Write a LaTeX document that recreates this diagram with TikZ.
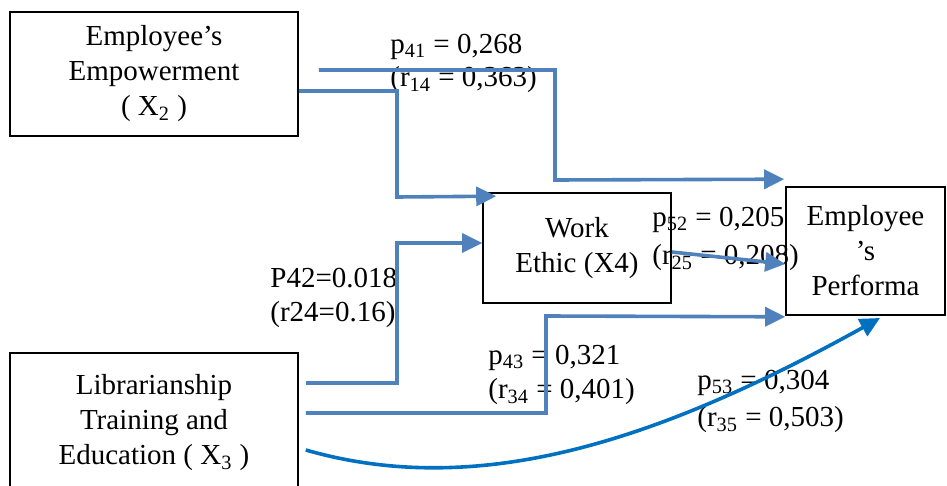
\documentclass[tikz,border=0pt]{standalone}
\usepackage{fontspec}
\setmainfont{Liberation Serif}
\usepackage{tikz}
\usetikzlibrary{arrows.meta,calc}
\definecolor{pathblue}{RGB}{79,129,189}
\definecolor{curveblue}{RGB}{0,112,192}

\begin{document}
\begin{tikzpicture}[x=0.5pt, y=-0.5pt, every node/.style={font=\fontsize{14.5}{17.5}\selectfont}]
\tikzset{box/.style={draw, line width=0.8pt, align=center, fill=white, inner sep=0pt}}
\tikzset{coef/.style={anchor=west, inner sep=0pt, align=left}}
\tikzset{arrow/.style={-{Triangle[length=10pt,width=9.5pt]}, line width=1.8pt, pathblue}}
\clip (0,0) rectangle (947,486);
% variables
\node[box, minimum width=144pt, minimum height=62pt] (empower) at (154,74) {Employee’s\\Empowerment\\( X\textsubscript{2} )};
\node[box, minimum width=94pt, minimum height=55pt] (ethic) at (577,248) {Work\\Ethic (X4)};
\node[box, minimum width=79.5pt, minimum height=64pt] (perform) at (865.5,251) {Employee\\’s\\Performa};
\node[box, minimum width=144pt, minimum height=70pt] (train) at (154,423) {Librarianship\\Training and\\Education ( X\textsubscript{3} )};
% coefficients
\node[coef] (p41) at (390,47) {p\textsubscript{41} = 0,268};
\node[coef] (r14) at (390,80) {(r\textsubscript{14} = 0,363)};
\node[coef] (p52) at (652,220) {p\textsubscript{52} = 0,205};
\node[coef] (r25) at (652,258) {(r\textsubscript{25} = 0,208)};
\node[coef] (p42) at (270,278) {P42=0.018};
\node[coef] (r24) at (270,315) {(r24=0.16)};
\node[coef] (p43) at (488,358) {p\textsubscript{43} = 0,321};
\node[coef] (r34) at (488,392) {(r\textsubscript{34} = 0,401)};
\node[coef] (p53) at (697,383) {p\textsubscript{53} = 0,304};
\node[coef] (r35) at (697,420) {(r\textsubscript{35} = 0,503)};
% paths
\draw[arrow] ($(empower.east)+(20,-4)$) -| (555,180) -- ($(perform.north west)+(-1,-7)$);
\draw[arrow] ($(empower.east)+(0,17)$) -| (397,197) -- ($(ethic.north west)+(14,4)$);
\draw[arrow] ($(train.east)+(7,-40)$) -| (397,243) -- ($(ethic.west)+(0,-5)$);
\draw[arrow] ($(train.east)+(7,-10)$) -| (546,316) -- ($(perform.south west)+(0,1)$);
\draw[arrow] ($(ethic.east)+(0,4)$) -- ($(perform.west)+(0,13)$);
\draw[arrow, curveblue] ($(train.east)+(7,27)$) .. controls (480,500) and (660,440) .. (880,318);
\end{tikzpicture}
\end{document}
